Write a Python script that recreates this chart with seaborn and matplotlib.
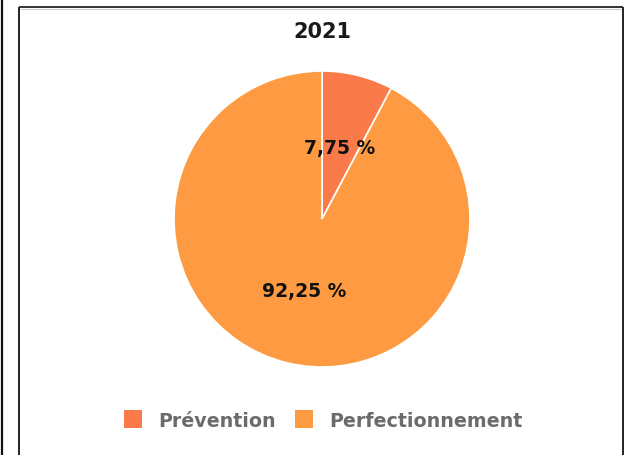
import matplotlib
matplotlib.use("Agg")
import matplotlib.pyplot as plt
from matplotlib.lines import Line2D
from matplotlib.patches import Patch
import seaborn as sns

# Share of training spend by type, 2021
categories = ["Prévention", "Perfectionnement"]
shares = [7.75, 92.25]
colors = ["#FB7A4A", "#FE9B42"]
title = "2021"

sns.set_theme(style="white")
plt.rcParams["font.family"] = ["DejaVu Sans"]

W, H = 632, 456
fig = plt.figure(figsize=(W / 100, H / 100), dpi=100)
fig.patch.set_facecolor("white")

# Pie axes: centre (322, 220) px, radius 148 px
cx, cy, r = 322, 220, 148
ax = fig.add_axes([(cx - r) / W, (H - cy - r) / H, 2 * r / W, 2 * r / H])
wedges, texts, autotexts = ax.pie(
    shares,
    colors=colors,
    startangle=90,
    counterclock=False,
    autopct=lambda p: f"{p:.2f} %".replace(".", ","),
    pctdistance=0.5,
    wedgeprops=dict(edgecolor="white", linewidth=1.2),
    textprops=dict(fontsize=13.5, fontweight="bold", color="#111111"),
)
ax.set_xlim(-1, 1)
ax.set_ylim(-1, 1)
ax.set_aspect("equal")
ax.axis("off")

fig.text(cx / W, 1 - 32.5 / H, title, ha="center", va="center",
         fontsize=15, fontweight="bold", color="#1a1a1a")

handles = [Patch(facecolor=c, edgecolor="none") for c in colors]
leg = fig.legend(
    handles, categories, loc="center", bbox_to_anchor=(323 / W, 1 - 421 / H),
    ncol=2, frameon=False, handlelength=0.95, handleheight=1.05,
    handletextpad=0.84, columnspacing=1.0, fontsize=13.7,
    borderpad=0, borderaxespad=0,
)
for t in leg.get_texts():
    t.set_color("#6b6b6b")
    t.set_fontweight("bold")

# Panel frame lines
def px_line(xs, ys, color, lw):
    fig.add_artist(Line2D([x / W for x in xs], [1 - y / H for y in ys],
                          transform=fig.transFigure, color=color, linewidth=lw,
                          solid_capstyle="butt"))

px_line([1.5, 1.5], [0, H], "#111111", 1.6)
px_line([19, 19], [8, H], "#222222", 1.4)
px_line([19, 623], [8, 8], "#333333", 1.4)
px_line([20, 622], [9.6, 9.6], "#cccccc", 0.8)
px_line([623, 623], [8, H], "#222222", 1.4)

fig.savefig("out.png", dpi=100, facecolor="white")
